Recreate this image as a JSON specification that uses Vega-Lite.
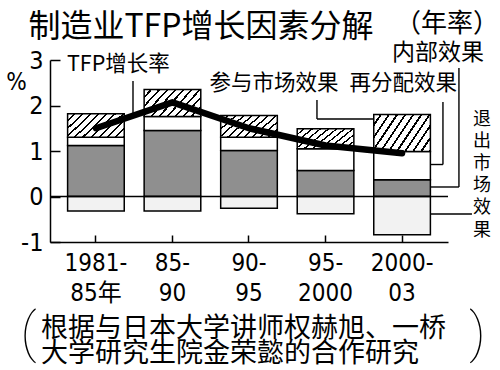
{
  "$schema": "https://vega.github.io/schema/vega-lite/v6.json",
  "description": "制造业TFP增长因素分解（年率）",
  "width": 398,
  "height": 182,
  "autosize": "none",
  "padding": {"left": 50, "top": 60, "right": 52, "bottom": 128},
  "background": "white",
  "config": {"view": {"stroke": null}, "axis": {"grid": false}},
  "datasets": {
    "effects": [
      {"period": "1981-85年", "component": "内部效果", "value": 1.12},
      {"period": "1981-85年", "component": "再分配效果", "value": 0.18},
      {"period": "1981-85年", "component": "参与市场效果", "value": 0.52},
      {"period": "1981-85年", "component": "退出市场效果", "value": -0.32},
      {"period": "85-90", "component": "内部效果", "value": 1.45},
      {"period": "85-90", "component": "再分配效果", "value": 0.31},
      {"period": "85-90", "component": "参与市场效果", "value": 0.59},
      {"period": "85-90", "component": "退出市场效果", "value": -0.32},
      {"period": "90-95", "component": "内部效果", "value": 1.01},
      {"period": "90-95", "component": "再分配效果", "value": 0.29},
      {"period": "90-95", "component": "参与市场效果", "value": 0.48},
      {"period": "90-95", "component": "退出市场效果", "value": -0.26},
      {"period": "95-2000", "component": "内部效果", "value": 0.57},
      {"period": "95-2000", "component": "再分配效果", "value": 0.48},
      {"period": "95-2000", "component": "参与市场效果", "value": 0.44},
      {"period": "95-2000", "component": "退出市场效果", "value": -0.38},
      {"period": "2000-03", "component": "内部效果", "value": 0.37},
      {"period": "2000-03", "component": "再分配效果", "value": 0.62},
      {"period": "2000-03", "component": "参与市场效果", "value": 0.81},
      {"period": "2000-03", "component": "退出市场效果", "value": -0.84}
    ],
    "tfp": [
      {"period": "1981-85年", "tfp": 1.50},
      {"period": "85-90", "tfp": 2.07},
      {"period": "90-95", "tfp": 1.50},
      {"period": "95-2000", "tfp": 1.12},
      {"period": "2000-03", "tfp": 0.95}
    ]
  },
  "layer": [
    {
      "layer": [
        {
          "data": {"name": "effects"},
          "transform": [
            {"calculate": "indexof(['内部效果','再分配效果','参与市场效果','退出市场效果'], datum.component)", "as": "stackOrder"}
          ],
          "mark": {"type": "bar", "stroke": "black", "strokeWidth": 1.5},
          "encoding": {
            "x": {
              "field": "period",
              "type": "nominal",
              "sort": null,
              "scale": {"domain": ["1981-85年", "85-90", "90-95", "95-2000", "2000-03"], "paddingInner": 0.26, "paddingOuter": 0.23},
              "axis": {
                "title": null,
                "labelExpr": "[slice(datum.label, 0, indexof(datum.label, '-') + 1), slice(datum.label, indexof(datum.label, '-') + 1)]",
                "labelFont": "Liberation Sans Narrow, DejaVu Sans Condensed, Noto Sans CJK SC",
                "labelFontSize": 24,
                "labelColor": "black",
                "labelAngle": 0,
                "labelLineHeight": 30,
                "labelBaseline": "top",
                "labelPadding": 16,
                "tickSize": -7,
                "tickColor": "black",
                "tickWidth": 1.5,
                "domainColor": "black",
                "domainWidth": 1.5
              }
            },
            "y": {
              "field": "value",
              "type": "quantitative",
              "stack": "zero",
              "scale": {"domain": [-1, 3], "nice": false, "zero": false},
              "axis": {
                "title": "%",
                "titleAngle": 0,
                "titleX": -34,
                "titleY": 22,
                "titleAlign": "center",
                "titleBaseline": "middle",
                "titleFont": "Liberation Sans Narrow, DejaVu Sans Condensed",
                "titleFontSize": 24,
                "titleFontWeight": "normal",
                "titleColor": "black",
                "values": [-1, 0, 1, 2, 3],
                "labelExpr": "'' + datum.value",
                "labelFont": "Liberation Sans Narrow, DejaVu Sans Condensed",
                "labelFontSize": 25,
                "labelColor": "black",
                "labelAlign": "right",
                "labelBaseline": "middle",
                "labelPadding": 17,
                "tickSize": -10,
                "tickColor": "black",
                "tickWidth": 1.5,
                "domainColor": "black",
                "domainWidth": 1.5
              }
            },
            "detail": {"field": "component"},
            "order": {"field": "stackOrder"},
            "fill": {
              "condition": [
                {
                  "test": "datum.component === '参与市场效果'",
                  "value": {
                    "gradient": "linear",
                    "x1": 0, "y1": 0, "x2": 1.207, "y2": 0.525,
                    "stops": [
                      {"offset": 0, "color": "white"}, {"offset": 0.074, "color": "white"}, {"offset": 0.074, "color": "black"}, {"offset": 0.1, "color": "black"},
                      {"offset": 0.1, "color": "white"}, {"offset": 0.174, "color": "white"}, {"offset": 0.174, "color": "black"}, {"offset": 0.2, "color": "black"},
                      {"offset": 0.2, "color": "white"}, {"offset": 0.274, "color": "white"}, {"offset": 0.274, "color": "black"}, {"offset": 0.3, "color": "black"},
                      {"offset": 0.3, "color": "white"}, {"offset": 0.374, "color": "white"}, {"offset": 0.374, "color": "black"}, {"offset": 0.4, "color": "black"},
                      {"offset": 0.4, "color": "white"}, {"offset": 0.474, "color": "white"}, {"offset": 0.474, "color": "black"}, {"offset": 0.5, "color": "black"},
                      {"offset": 0.5, "color": "white"}, {"offset": 0.574, "color": "white"}, {"offset": 0.574, "color": "black"}, {"offset": 0.6, "color": "black"},
                      {"offset": 0.6, "color": "white"}, {"offset": 0.674, "color": "white"}, {"offset": 0.674, "color": "black"}, {"offset": 0.7, "color": "black"},
                      {"offset": 0.7, "color": "white"}, {"offset": 0.774, "color": "white"}, {"offset": 0.774, "color": "black"}, {"offset": 0.8, "color": "black"},
                      {"offset": 0.8, "color": "white"}, {"offset": 0.874, "color": "white"}, {"offset": 0.874, "color": "black"}, {"offset": 0.9, "color": "black"},
                      {"offset": 0.9, "color": "white"}, {"offset": 0.974, "color": "white"}, {"offset": 0.974, "color": "black"}, {"offset": 1, "color": "black"}
                    ]
                  }
                },
                {"test": "datum.component === '内部效果'", "value": "#8f8f8f"},
                {"test": "datum.component === '退出市场效果'", "value": "#f2f2f2"}
              ],
              "value": "white"
            }
          }
        },
        {
          "data": {"values": [{}]},
          "mark": {"type": "rule", "stroke": "black", "strokeWidth": 1.5},
          "encoding": {
            "y": {"datum": 0, "type": "quantitative", "scale": {"domain": [-1, 3], "nice": false, "zero": false}}
          }
        },
        {
          "data": {"name": "tfp"},
          "mark": {"type": "line", "stroke": "black", "strokeWidth": 6.5, "strokeCap": "round", "strokeJoin": "round"},
          "encoding": {
            "x": {"field": "period", "type": "nominal", "sort": null, "bandPosition": 0.5},
            "y": {"field": "tfp", "type": "quantitative", "scale": {"domain": [-1, 3], "nice": false, "zero": false}}
          }
        }
      ]
    },
    {
      "layer": [
        {
          "data": {"values": [
            {"x": 1.085, "y": 2.538, "x2": 1.085, "y2": 1.835},
            {"x": 3.49, "y": 2.121, "x2": 3.49, "y2": 1.703},
            {"x": 3.49, "y": 1.703, "x2": 4.23, "y2": 1.703},
            {"x": 5.137, "y": 2.077, "x2": 5.137, "y2": 0.703},
            {"x": 5.137, "y": 0.703, "x2": 4.97, "y2": 0.703},
            {"x": 5.346, "y": 2.824, "x2": 5.346, "y2": 0.209},
            {"x": 5.346, "y": 0.209, "x2": 4.97, "y2": 0.209},
            {"x": 4.97, "y": -0.385, "x2": 5.516, "y2": -0.385}
          ]},
          "mark": {"type": "rule", "stroke": "black", "strokeWidth": 1.4},
          "encoding": {
            "x": {"field": "x", "type": "quantitative", "scale": {"domain": [0, 5.203], "nice": false, "zero": false}, "axis": null},
            "x2": {"field": "x2"},
            "y": {"field": "y", "type": "quantitative", "scale": {"domain": [-1, 3], "nice": false, "zero": false}},
            "y2": {"field": "y2"}
          }
        },
        {
          "data": {"values": [
            {"x": -0.282, "y": 3.505, "label": "制造业TFP增长因素分解"}
          ]},
          "mark": {"type": "text", "font": "Noto Sans CJK SC", "fontSize": 32, "align": "left", "baseline": "alphabetic", "color": "black"},
          "encoding": {
            "x": {"field": "x", "type": "quantitative", "scale": {"domain": [0, 5.203], "nice": false, "zero": false}, "axis": null},
            "y": {"field": "y", "type": "quantitative", "scale": {"domain": [-1, 3], "nice": false, "zero": false}},
            "text": {"field": "label"}
          }
        },
        {
          "data": {"values": [
            {"x": 5.869, "y": 3.615, "label": "（年率）"}
          ]},
          "mark": {"type": "text", "font": "Noto Sans CJK SC", "fontSize": 26, "align": "right", "baseline": "alphabetic", "color": "black"},
          "encoding": {
            "x": {"field": "x", "type": "quantitative", "scale": {"domain": [0, 5.203], "nice": false, "zero": false}, "axis": null},
            "y": {"field": "y", "type": "quantitative", "scale": {"domain": [-1, 3], "nice": false, "zero": false}},
            "text": {"field": "label"}
          }
        },
        {
          "data": {"values": [
            {"x": 0.222, "y": 2.758, "label": "TFP增长率"},
            {"x": 2.085, "y": 2.33, "label": "参与市场效果"},
            {"x": 3.915, "y": 2.33, "label": "再分配效果"}
          ]},
          "mark": {"type": "text", "font": "Noto Sans CJK SC", "fontSize": 21.5, "align": "left", "baseline": "alphabetic", "color": "black"},
          "encoding": {
            "x": {"field": "x", "type": "quantitative", "scale": {"domain": [0, 5.203], "nice": false, "zero": false}, "axis": null},
            "y": {"field": "y", "type": "quantitative", "scale": {"domain": [-1, 3], "nice": false, "zero": false}},
            "text": {"field": "label"}
          }
        },
        {
          "data": {"values": [
            {"x": 4.471, "y": 3.01, "label": "内部效果"}
          ]},
          "mark": {"type": "text", "font": "Noto Sans CJK SC", "fontSize": 23, "align": "left", "baseline": "alphabetic", "color": "black"},
          "encoding": {
            "x": {"field": "x", "type": "quantitative", "scale": {"domain": [0, 5.203], "nice": false, "zero": false}, "axis": null},
            "y": {"field": "y", "type": "quantitative", "scale": {"domain": [-1, 3], "nice": false, "zero": false}},
            "text": {"field": "label"}
          }
        },
        {
          "data": {"values": [
            {"x": 5.647, "y": 1.582, "label": "退\n出\n市\n场\n效\n果"}
          ]},
          "mark": {"type": "text", "font": "Noto Sans CJK SC", "fontSize": 18, "lineHeight": 22.2, "lineBreak": "\n", "align": "center", "baseline": "alphabetic", "color": "black"},
          "encoding": {
            "x": {"field": "x", "type": "quantitative", "scale": {"domain": [0, 5.203], "nice": false, "zero": false}, "axis": null},
            "y": {"field": "y", "type": "quantitative", "scale": {"domain": [-1, 3], "nice": false, "zero": false}},
            "text": {"field": "label"}
          }
        },
        {
          "data": {"values": [
            {"x": -0.118, "y": -3.088, "label": "根据与日本大学讲师权赫旭、一桥\n大学研究生院金荣懿的合作研究"}
          ]},
          "mark": {"type": "text", "font": "Noto Sans CJK SC", "fontSize": 27, "lineHeight": 25, "lineBreak": "\n", "align": "left", "baseline": "alphabetic", "color": "black"},
          "encoding": {
            "x": {"field": "x", "type": "quantitative", "scale": {"domain": [0, 5.203], "nice": false, "zero": false}, "axis": null},
            "y": {"field": "y", "type": "quantitative", "scale": {"domain": [-1, 3], "nice": false, "zero": false}},
            "text": {"field": "label"}
          }
        },
        {
          "data": {"values": [
            {"x": -0.281, "y": -3.396, "label": "("},
            {"x": 5.588, "y": -3.396, "label": ")"}
          ]},
          "mark": {"type": "text", "font": "Roboto, Lato, DejaVu Sans", "fontWeight": 100, "fontSize": 54, "align": "center", "baseline": "alphabetic", "color": "black"},
          "encoding": {
            "x": {"field": "x", "type": "quantitative", "scale": {"domain": [0, 5.203], "nice": false, "zero": false}, "axis": null},
            "y": {"field": "y", "type": "quantitative", "scale": {"domain": [-1, 3], "nice": false, "zero": false}},
            "text": {"field": "label"}
          }
        }
      ]
    }
  ],
  "resolve": {"scale": {"x": "independent"}}
}
